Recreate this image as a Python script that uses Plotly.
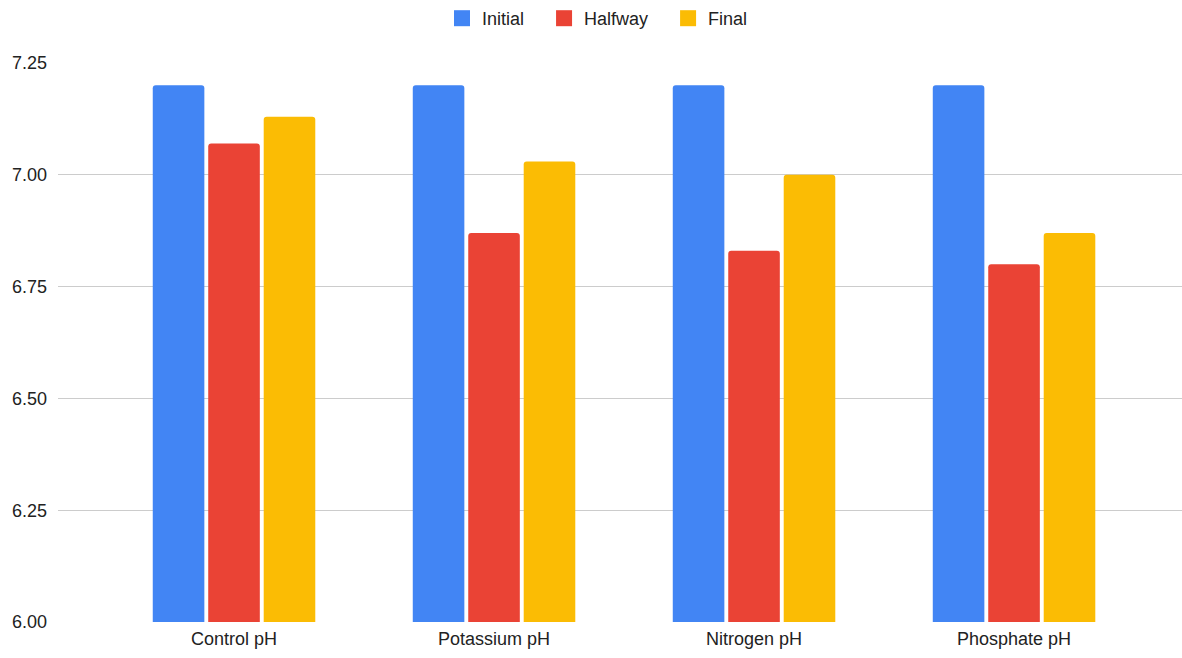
import plotly.graph_objects as go

categories = ["Control pH", "Potassium pH", "Nitrogen pH", "Phosphate pH"]
initial = [7.20, 7.20, 7.20, 7.20]
halfway = [7.07, 6.87, 6.83, 6.80]
final = [7.13, 7.03, 7.00, 6.87]
y_ticks = [6.00, 6.25, 6.50, 6.75, 7.00, 7.25]

series = [("Initial", initial, "#4285F4"), ("Halfway", halfway, "#EA4335"), ("Final", final, "#FBBC04")]

fig = go.Figure()
for name, vals, color in series:
    fig.add_trace(go.Bar(x=categories, y=vals, name=name, marker_color=color,
                         marker_line_width=0, showlegend=False))
# legend entries with larger square swatches
pad = "\u00a0" * 3
for i, (name, vals, color) in enumerate(series):
    fig.add_trace(go.Scatter(x=[None], y=[None], mode="markers",
                             name=name + (pad if i < len(series) - 1 else ""),
                             marker=dict(symbol="square", size=18, color=color)))

font = "Liberation Sans, Arial, sans-serif"
fig.update_layout(
    width=1182, height=658,
    margin=dict(l=58, r=0, t=63, b=36),
    paper_bgcolor="white", plot_bgcolor="white",
    barmode="group", bargap=0.36, bargroupgap=0.07,
    barcornerradius=3,
    font=dict(family=font, size=18, color="#222222"),
    legend=dict(orientation="h", x=0.48, xanchor="center", y=1.0, yanchor="top",
                yref="container", font=dict(size=18, color="#222222"),
                itemwidth=30),
    xaxis=dict(range=[-0.677, 3.646], showgrid=False, showline=False, ticks="",
               tickfont=dict(size=18, color="#222222"), ticklabelstandoff=4),
    yaxis=dict(range=[6.0, 7.25], tickvals=y_ticks, ticktext=[f"{v:.2f}" for v in y_ticks],
               showgrid=True, gridcolor="#cccccc", gridwidth=1, zeroline=False,
               showline=False, ticks="", tickfont=dict(size=18, color="#222222"),
               ticklabelstandoff=10),
)
fig.write_html("out.html")
